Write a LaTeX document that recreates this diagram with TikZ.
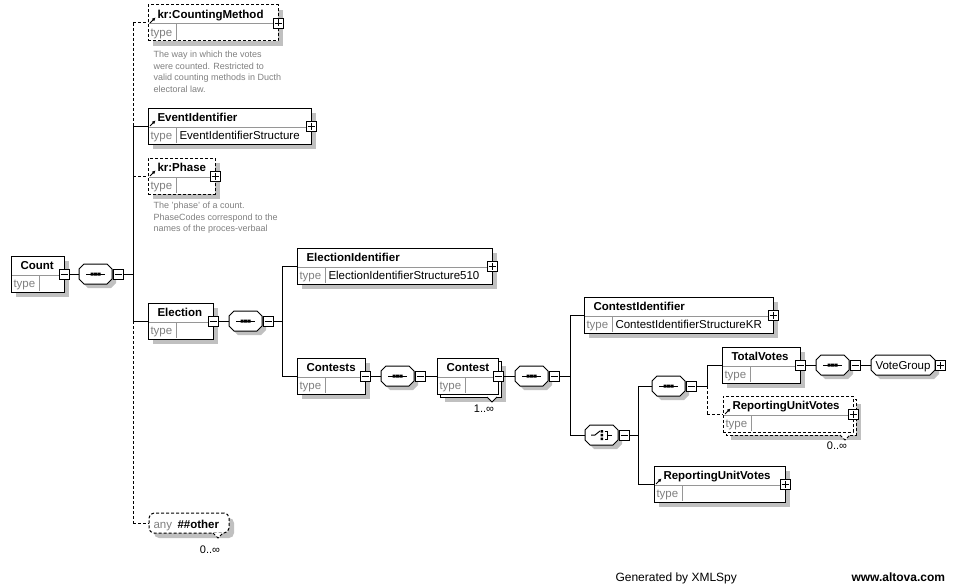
\documentclass[tikz,border=0pt]{standalone}
\usepackage{fontspec}
\setmainfont{Liberation Sans}
\usetikzlibrary{arrows.meta}
\definecolor{shd}{RGB}{192,192,192}
\definecolor{txtgray}{RGB}{128,128,128}
\definecolor{divgray}{RGB}{150,150,150}
\tikzset{
  ebox/.style={draw=black, fill=white, rectangle, inner sep=0pt, outer sep=0pt, anchor=north west, minimum height=36pt},
  dsh/.style={dash pattern=on 3pt off 2pt},
  divline/.style={divgray, line width=1pt},
  ttl/.style={anchor=base west, inner sep=0pt, font=\bfseries\fontsize{11.5}{13}\selectfont},
  tyl/.style={anchor=base west, inner sep=0pt, text=txtgray, font=\fontsize{11.5}{13}\selectfont},
  tyv/.style={anchor=base west, inner sep=0pt, font=\fontsize{11.5}{13}\selectfont},
  pmbox/.style={draw=black, fill=white, rectangle, inner sep=0pt, outer sep=0pt, minimum size=10pt, line width=0.9pt},
  comp/.style={rectangle, inner sep=0pt, outer sep=0pt, minimum width=33pt, minimum height=20pt},
  desc/.style={anchor=north west, inner sep=0pt, align=left, text=txtgray, font=\fontsize{9}{11.5}\selectfont},
  mult/.style={anchor=base, inner sep=0pt, font=\fontsize{11}{13}\selectfont},
  foot/.style={anchor=base west, inner sep=0pt, font=\fontsize{12}{14}\selectfont}
}
% shadow
\newcommand\xsdshadow[4]{\fill[shd] (#1+5,#2+5) rectangle (#1+#3+5,#2+#4+5);}
% element box: name, x, top, width, title, type value, border style
\newcommand\xsdelem[7]{%
  \node[ebox,#7,minimum width=#4pt] (#1) at (#2,#3) {};
  \draw[divline] (#2+1,#3+19) -- (#2+#4-1,#3+19);
  \draw[divline] (#2+28,#3+19) -- (#2+28,#3+35);
  \node[ttl] (#1-t) at (#2+9,#3+13.5) {#5};
  \node[tyl] (#1-y) at (#2+2,#3+31.5) {type};
  \node[tyv] (#1-v) at (#2+31,#3+31.5) {#6};
}
% reference arrow icon: x, top
\newcommand\xsdref[2]{\draw[line width=1pt,-{Latex[length=3.5pt,width=3.5pt]}] (#1+2,#2+18) -- (#1+7.5,#2+12.5);}
% plus / minus boxes
\newcommand\xsdplus[3]{\node[pmbox] (#1) at (#2,#3) {};
  \draw[line width=0.9pt] (#2-3.5,#3) -- (#2+3.5,#3) (#2,#3-3.5) -- (#2,#3+3.5);}
\newcommand\xsdminus[3]{\node[pmbox] (#1) at (#2,#3) {};
  \draw[line width=0.9pt] (#2-3.5,#3) -- (#2+3.5,#3);}
% notch: cx, bottom y
\newcommand\xsdnotch[3]{\fill[white] (#1-5,#2) -- (#1,#2+5) -- (#1+5,#2) -- cycle;
  \draw[line width=1pt,#3] (#1-5,#2) -- (#1,#2+5) -- (#1+5,#2);}
% compositor octagon: name, left, cy
\newcommand\xsdoct[3]{%
  \fill[shd] (#2+4,#3-1) -- (#2+9,#3-6) -- (#2+32,#3-6) -- (#2+37,#3-1) -- (#2+37,#3+9) -- (#2+32,#3+14) -- (#2+9,#3+14) -- (#2+4,#3+9) -- cycle;
  \node[comp] (#1) at (#2+16.5,#3) {};
  \draw[fill=white] (#2,#3-5) -- (#2+5,#3-10) -- (#2+28,#3-10) -- (#2+33,#3-5) -- (#2+33,#3+5) -- (#2+28,#3+10) -- (#2+5,#3+10) -- (#2,#3+5) -- cycle;}
\newcommand\xsdseq[3]{\xsdoct{#1}{#2}{#3}%
  \draw (#2+7,#3) -- (#2+26,#3);
  \fill (#2+11.5,#3-1.5) rectangle ++(3,3) (#2+15,#3-1.5) rectangle ++(3,3) (#2+18.5,#3-1.5) rectangle ++(3,3);}
\newcommand\xsdchoice[3]{\xsdoct{#1}{#2}{#3}%
  \draw (#2+6,#3) -- (#2+10,#3) -- (#2+15,#3-4);
  \fill (#2+15.5,#3-5) rectangle ++(2.5,2.5) (#2+15.5,#3-1.25) rectangle ++(2.5,2.5) (#2+15.5,#3+2.5) rectangle ++(2.5,2.5);
  \draw (#2+19.5,#3-4) -- (#2+22,#3-4) -- (#2+22,#3+4) -- (#2+19.5,#3+4) (#2+22,#3) -- (#2+27,#3);}

\begin{document}
\begin{tikzpicture}[x=1pt,y=-1pt,line width=1pt]
\fill[white] (0,0) rectangle (956,586);
\useasboundingbox (0,0) rectangle (956,586);

% ---------- Count ----------
\xsdshadow{11}{256}{53}{36}
\xsdelem{cnt}{11}{256}{53}{Count}{}{}
\xsdminus{cnt-m}{64}{274}
\xsdseq{s1}{79}{274}
\xsdminus{s1-m}{118}{274}

% ---------- kr:CountingMethod ----------
\xsdshadow{148}{5}{130}{36}
\xsdelem{cm}{148}{5}{130}{kr:CountingMethod}{}{dsh}
\xsdref{148}{5}
\xsdplus{cm-p}{278}{23}
\node[desc] (cm-d) at (153,50.5) {The way in which the votes\\were counted. Restricted to\\valid counting methods in Ducth\\electoral law.};

% ---------- EventIdentifier ----------
\xsdshadow{148}{108}{163}{36}
\xsdelem{ei}{148}{108}{163}{EventIdentifier}{EventIdentifierStructure}{}
\xsdref{148}{108}
\xsdplus{ei-p}{311}{126}

% ---------- kr:Phase ----------
\xsdshadow{148}{158}{67}{36}
\xsdelem{ph}{148}{158}{67}{kr:Phase}{}{dsh}
\xsdref{148}{158}
\xsdplus{ph-p}{215}{176}
\node[desc] (ph-d) at (153,201.5) {The 'phase' of a count.\\PhaseCodes correspond to the\\names of the proces-verbaal};

% ---------- Election ----------
\xsdshadow{148}{303}{65}{36}
\xsdelem{el}{148}{303}{65}{Election}{}{}
\xsdminus{el-m}{213}{321}
\xsdseq{s2}{229}{321}
\xsdminus{s2-m}{268}{321}

% ---------- any ##other ----------
\fill[shd, rounded corners=5pt] (154,518) rectangle (234,538);
\node[draw, dsh, fill=white, rounded corners=5pt, inner sep=0pt, outer sep=0pt, minimum width=80pt, minimum height=20pt, anchor=north west] (any) at (149,513) {};
\node[tyl] (any-a) at (153,528) {any};
\node[ttl] (any-o) at (177,528) {\#\#other};
\xsdnotch{218}{533}{dsh}
\node[mult] (any-n) at (210,553) {0..∞};

% ---------- ElectionIdentifier ----------
\xsdshadow{297}{248}{195}{36}
\xsdelem{eid}{297}{248}{195}{ElectionIdentifier}{ElectionIdentifierStructure510}{}
\xsdplus{eid-p}{492}{266}

% ---------- Contests ----------
\xsdshadow{297}{358}{68}{36}
\xsdelem{cts}{297}{358}{68}{Contests}{}{}
\xsdminus{cts-m}{365}{376}
\xsdseq{s3}{381}{376}
\xsdminus{s3-m}{420}{376}

% ---------- Contest (multiple) ----------
\xsdshadow{440}{361}{61}{36}
\draw[fill=white] (440,361) rectangle ++(61,36);
\xsdnotch{492}{397}{}
\xsdelem{ct}{437}{358}{61}{Contest}{}{}
\xsdminus{ct-m}{498}{376}
\node[mult] (ct-n) at (484,412) {1..∞};
\xsdseq{s4}{515}{376}
\xsdminus{s4-m}{554}{376}

% ---------- ContestIdentifier ----------
\xsdshadow{584}{297}{189}{36}
\xsdelem{cid}{584}{297}{189}{ContestIdentifier}{ContestIdentifierStructureKR}{}
\xsdplus{cid-p}{773}{315}

% ---------- choice ----------
\xsdchoice{c1}{585}{435}
\xsdminus{c1-m}{624}{435}

% ---------- sequence to TotalVotes ----------
\xsdseq{s5}{652}{386}
\xsdminus{s5-m}{691}{386}

% ---------- TotalVotes ----------
\xsdshadow{722}{347}{78}{36}
\xsdelem{tv}{722}{347}{78}{TotalVotes}{}{}
\xsdminus{tv-m}{800}{365}
\xsdseq{s6}{816}{365}
\xsdminus{s6-m}{855}{365}

% ---------- VoteGroup ----------
\fill[shd] (875,364) -- (880,359) -- (934,359) -- (939,364) -- (939,374) -- (934,379) -- (880,379) -- (875,374) -- cycle;
\node[rectangle, inner sep=0pt, outer sep=0pt, minimum width=64pt, minimum height=20pt] (vg) at (903,365) {};
\draw[fill=white] (871,360) -- (876,355) -- (930,355) -- (935,360) -- (935,370) -- (930,375) -- (876,375) -- (871,370) -- cycle;
\node[tyv, anchor=base] (vg-t) at (903,369.5) {VoteGroup};
\xsdplus{vg-p}{940.5}{365}

% ---------- ReportingUnitVotes (optional, multiple) ----------
\xsdshadow{726}{399}{130}{36}
\draw[dsh, fill=white] (726,399) rectangle ++(130,36);
\xsdnotch{845}{435}{dsh}
\xsdelem{ruv1}{723}{396}{130}{ReportingUnitVotes}{}{dsh}
\xsdref{723}{396}
\xsdplus{ruv1-p}{853}{414}
\node[mult] (ruv1-n) at (837,449) {0..∞};

% ---------- ReportingUnitVotes ----------
\xsdshadow{654}{466}{131}{36}
\xsdelem{ruv2}{654}{466}{131}{ReportingUnitVotes}{}{}
\xsdref{654}{466}
\xsdplus{ruv2-p}{785}{484}

% ---------- junctions ----------
\coordinate (t1a) at (133,23);
\coordinate (t1b) at (133,126);
\coordinate (t1c) at (133,321);
\coordinate (t1d) at (133,523);
\coordinate (j1) at (133,274);
\coordinate (t2a) at (282,266);
\coordinate (t2b) at (282,376);
\coordinate (j2) at (282,321);
\coordinate (t3a) at (570,315);
\coordinate (t3b) at (570,435);
\coordinate (j3) at (570,376);
\coordinate (t4a) at (638,386);
\coordinate (t4b) at (638,484);
\coordinate (j4) at (638,435);
\coordinate (t5a) at (707,365);
\coordinate (t5b) at (707,414);
\coordinate (j5) at (707,386);

% ---------- connectors ----------
\draw (cnt-m.east) -- (s1.west);
\draw (s1-m.east) -- (j1);
\draw[dsh] (t1a) -- (t1b);
\draw (t1b) -- (t1c);
\draw[dsh] (t1c) -- (t1d);
\draw[dsh] (t1a) -- (cm.west);
\draw (t1b) -- (ei.west);
\draw[dsh] (ph.west -| t1a) -- (ph.west);
\draw (t1c) -- (el.west);
\draw[dsh] (t1d) -- (any.west);

\draw (el-m.east) -- (s2.west);
\draw (s2-m.east) -- (j2);
\draw (t2a) -- (t2b);
\draw (t2a) -- (eid.west);
\draw (t2b) -- (cts.west);

\draw (cts-m.east) -- (s3.west);
\draw (s3-m.east) -- (ct.west);
\draw (ct-m.east) -- (s4.west);
\draw (s4-m.east) -- (j3);
\draw (t3a) -- (t3b);
\draw (t3a) -- (cid.west);
\draw (t3b) -- (c1.west);

\draw (c1-m.east) -- (j4);
\draw (t4a) -- (t4b);
\draw (t4a) -- (s5.west);
\draw (t4b) -- (ruv2.west);

\draw (s5-m.east) -- (j5);
\draw (t5a) -- (j5);
\draw[dsh] (j5) -- (t5b);
\draw (t5a) -- (tv.west);
\draw[dsh] (t5b) -- (ruv1.west);

\draw (tv-m.east) -- (s6.west);
\draw (s6-m.east) -- (vg.west);

% ---------- footer ----------
\node[foot] (gen) at (615,581) {Generated by XMLSpy};
\node[foot, font=\bfseries\fontsize{12}{14}\selectfont] (alt) at (851,581) {www.altova.com};
\end{tikzpicture}
\end{document}
